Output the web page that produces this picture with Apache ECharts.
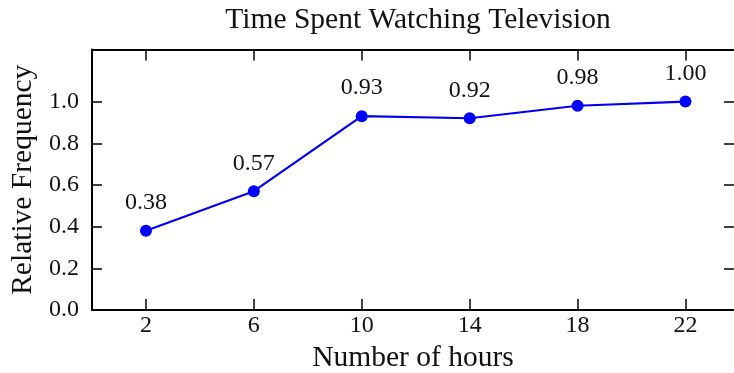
<!DOCTYPE html>
<html>
<head>
<meta charset="utf-8">
<script src="https://cdn.jsdelivr.net/npm/echarts@6/dist/echarts.min.js"></script>
<style>
  html, body { margin: 0; padding: 0; background: #fff; }
  #chart { width: 734px; height: 373px; }
</style>
</head>
<body>
<div id="chart"></div>
<script>
// Cumulative relative frequency of weekly TV viewing hours
const hours = [2, 6, 10, 14, 18, 22];
const relFreq = [0.38, 0.57, 0.93, 0.92, 0.98, 1.00];
const xTicks = [2, 6, 10, 14, 18, 22];
const yTicks = [0.0, 0.2, 0.4, 0.6, 0.8, 1.0];

const FONT = '"Liberation Serif", "Times New Roman", serif';
const INK = '#111';

const points = hours.map((h, i) => [h, relFreq[i]]);

const tickStyle = { lineStyle: { color: '#000', width: 1.5 } };

function xAxisDef(pos, labels) {
  return {
    type: 'value', position: pos, min: 0, max: 23.8,
    splitLine: { show: false },
    axisLine: { show: true, onZero: false, lineStyle: { color: '#000', width: 2 } },
    axisTick: Object.assign({ show: true, inside: true, length: 11, customValues: xTicks }, tickStyle),
    axisLabel: {
      show: labels, customValues: xTicks, margin: 4,
      fontFamily: FONT, fontSize: 24, color: INK
    }
  };
}

function yAxisDef(pos, labels, line) {
  return {
    type: 'value', position: pos, min: 0, max: 1.25,
    splitLine: { show: false },
    axisLine: { show: line, onZero: false, lineStyle: { color: '#000', width: 2 } },
    axisTick: Object.assign({ show: true, inside: true, length: 10, customValues: yTicks }, tickStyle),
    axisLabel: {
      show: labels, customValues: yTicks, margin: 13,
      fontFamily: FONT, fontSize: 24, color: INK,
      formatter: v => v.toFixed(1)
    }
  };
}

const xMain = xAxisDef('bottom', true);
xMain.name = 'Number of hours';
xMain.nameLocation = 'middle';
xMain.nameGap = 28;
xMain.nameTextStyle = { fontFamily: FONT, fontSize: 29.5, color: INK };

const yMain = yAxisDef('left', true, true);
yMain.name = 'Relative Frequency';
yMain.nameLocation = 'middle';
yMain.nameGap = 52;
yMain.nameTextStyle = { fontFamily: FONT, fontSize: 29.5, color: INK };

const chart = echarts.init(document.getElementById('chart'), null, { renderer: 'canvas' });
chart.setOption({
  animation: false,
  backgroundColor: '#fff',
  title: {
    text: 'Time Spent Watching Television',
    left: 413, top: 0, textAlign: 'center',
    textStyle: { fontFamily: FONT, fontSize: 29.5, fontWeight: 'normal', color: INK }
  },
  grid: {
    left: 92, right: 0, top: 49.5, bottom: 63,
    containLabel: false, outerBoundsMode: 'none'
  },
  xAxis: [xMain, xAxisDef('top', false)],
  yAxis: [yMain, yAxisDef('right', false, false)],
  series: [{
    type: 'line',
    data: points,
    xAxisIndex: 0, yAxisIndex: 0,
    symbol: 'circle', symbolSize: 12,
    lineStyle: { color: '#0000ee', width: 2.2 },
    itemStyle: { color: '#0000ff' },
    label: {
      show: true, position: 'top', distance: 10,
      fontFamily: FONT, fontSize: 24, color: INK,
      formatter: p => p.value[1].toFixed(2)
    }
  }]
});
</script>
</body>
</html>
